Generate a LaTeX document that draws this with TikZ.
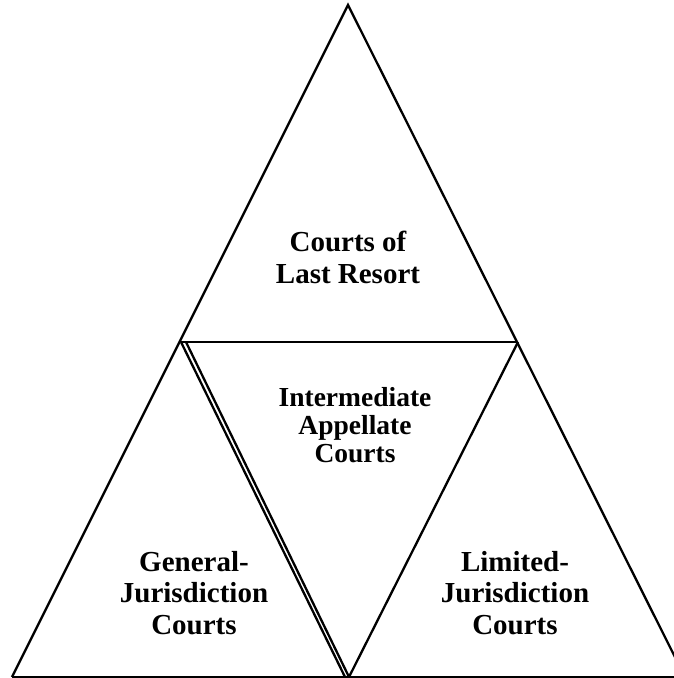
\documentclass[tikz,border=0pt]{standalone}
\usepackage{fontspec}
\setmainfont{Liberation Serif}
\begin{document}
\begin{tikzpicture}[x=1pt,y=-1pt,
  edge/.style={line width=2.3pt, line join=miter},
  bigtext/.style={align=center, font=\bfseries\fontsize{29}{31.5}\selectfont, inner sep=0pt, anchor=base},
  midtext/.style={align=center, font=\bfseries\fontsize{27.5}{27.8}\selectfont, inner sep=0pt, anchor=base}]
\useasboundingbox (0,0) rectangle (674,678);
\clip (0,0) rectangle (674,678);
\coordinate (A) at (348,5);
\coordinate (B) at (181,342);
\coordinate (B2) at (186,342);
\coordinate (C) at (518,342);
\coordinate (D) at (12,677);
\coordinate (E) at (349,677);
\coordinate (E1) at (345,677);
\coordinate (F) at (685,677);
\coordinate (G) at (674,677);
% outer triangle
\draw[edge] (D) -- (A) -- (F);
\draw[edge] (D) -- (G);
% horizontal
\draw[edge] (B) -- (C);
% inner inverted triangle edges
\draw[edge] (B) -- (E1);
\draw[edge] (B2) -- (E);
\draw[edge] (C) -- (E);
% labels
\node[bigtext] (top) at (348,283) {Courts of\\Last Resort};
\node[midtext] (mid) at (355,462) {Intermediate\\Appellate\\Courts};
\node[bigtext] (left) at (194,634) {General-\\Jurisdiction\\Courts};
\node[bigtext] (right) at (515,634) {Limited-\\Jurisdiction\\Courts};
\end{tikzpicture}
\end{document}
